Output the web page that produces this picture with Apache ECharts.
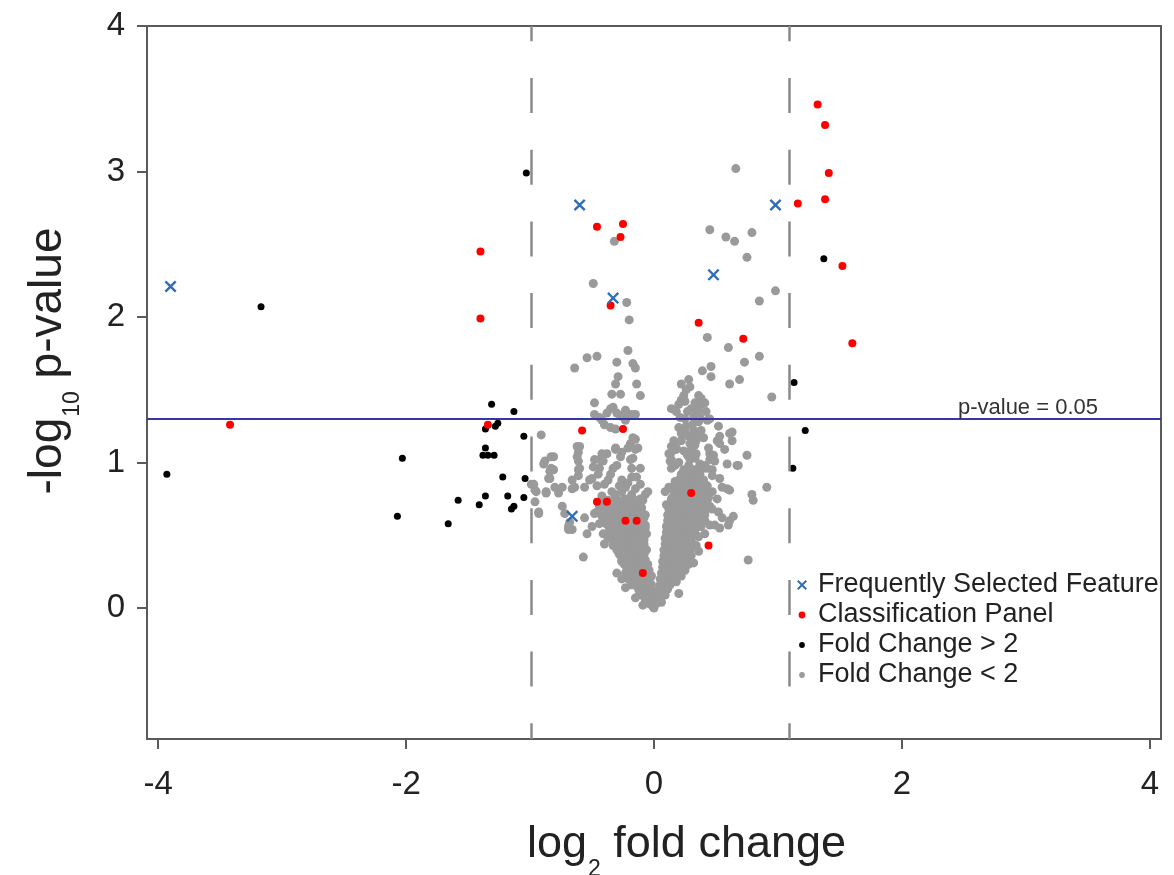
<!DOCTYPE html>
<html>
<head>
<meta charset="utf-8">
<script src="https://cdn.jsdelivr.net/npm/echarts@6/dist/echarts.min.js"></script>
<style>
html,body{margin:0;padding:0;background:#fff;}
#chart{width:1174px;height:875px;}
</style>
</head>
<body>
<div id="chart"></div>
<script>
// ---- data (log2 fold change, -log10 p-value) ----
const xTickValues = [-4, -2, 0, 2, 4];
const yTickValues = [0, 1, 2, 3, 4];
const pThreshold = 1.301;      // -log10(0.05)
const fcLeft = -0.99;
const fcRight = 1.09;

const bluePoints = [
  [-3.90,2.21],[-0.60,2.77],[-0.33,2.13],[0.48,2.29],[0.98,2.77],[-0.66,0.63]
];

const redPoints = [
  [-3.42,1.26],[-1.40,2.45],[-1.40,1.99],[-1.34,1.26],[-0.46,2.62],[-0.25,2.64],[-0.27,2.55],
  [-0.35,2.08],[0.36,1.96],[0.72,1.85],[-0.58,1.22],[-0.25,1.23],[0.30,0.79],[-0.46,0.73],
  [-0.38,0.73],[-0.23,0.60],[-0.14,0.60],[0.44,0.43],[-0.09,0.24],[1.16,2.78],[1.38,2.81],
  [1.41,2.99],[1.52,2.35],[1.60,1.82],[1.32,3.46],[1.38,3.32]
];

const blackPoints = [
  [-3.93,0.92],[-3.17,2.07],[-2.03,1.03],[-2.07,0.63],[-1.66,0.58],[-1.58,0.74],[-1.41,0.71],
  [-1.36,0.77],[-1.31,1.40],[-1.13,1.35],[-1.26,1.27],[-1.28,1.25],[-1.36,1.23],[-1.36,1.10],
  [-1.38,1.05],[-1.34,1.05],[-1.29,1.05],[-1.22,0.90],[-1.05,1.18],[-1.04,0.89],[-1.18,0.77],
  [-1.05,0.76],[-1.15,0.68],[-1.13,0.70],[-1.03,2.99],[1.13,1.55],[1.22,1.22],[1.12,0.96],
  [1.37,2.40]
];

const grayPoints = [
  // upper sparse
  [0.66,3.02],[0.45,2.60],[0.58,2.55],[0.65,2.52],[0.79,2.58],[0.75,2.41],[-0.32,2.52],[-0.49,2.23],
  [-0.22,2.10],[-0.20,1.98],[0.85,2.11],[0.98,2.18],[0.43,1.86],[0.60,1.79],[0.73,1.69],[0.85,1.73],
  [0.69,1.57],[0.61,1.54],[0.95,1.45],[0.46,1.66],[0.39,1.63],[0.46,1.59],[-0.64,1.65],[-0.54,1.72],
  [-0.46,1.73],[-0.30,1.69],[-0.21,1.77],[-0.17,1.68],[-0.15,1.65],[-0.29,1.59],[-0.31,1.54],
  [-0.14,1.54],[-0.34,1.47],[-0.27,1.47],[-0.11,1.46],[-0.48,1.41],[-0.33,1.38],[-0.23,1.36],
  // band around threshold
  [-0.35,1.37],[-0.30,1.34],[-0.23,1.33],[-0.15,1.33],[-0.48,1.33],[-0.42,1.29],[-0.40,1.26],
  [-0.35,1.24],[-0.31,1.23],[-0.23,1.29],[-0.17,1.17],[-0.15,1.16],[-0.91,1.19],[-0.62,1.11],
  [-0.61,1.07],[-0.31,1.10],[-0.26,1.07],[-0.42,1.06],[-0.21,1.10],[-0.13,1.10],[-0.81,1.04],
  [-0.44,1.31],[-0.38,1.34],[-0.27,1.32],[-0.18,1.33],
  [0.22,1.54],[0.28,1.57],[0.26,1.50],[0.29,1.52],[0.22,1.43],[0.25,1.42],[0.36,1.46],[0.38,1.44],
  [0.33,1.41],[0.38,1.40],[0.41,1.41],[0.30,1.37],[0.33,1.35],[0.36,1.36],[0.37,1.31],[0.32,1.31],
  [0.14,1.37],[0.18,1.35],[0.21,1.31],[0.25,1.30],[0.45,1.30],[0.43,1.29],[0.20,1.24],[0.22,1.20],
  [0.25,1.21],[0.32,1.22],[0.34,1.19],[0.30,1.17],[0.34,1.15],[0.52,1.25],[0.63,1.21],[0.53,1.18],
  [0.51,1.15],[0.57,1.09],[0.44,1.10],[0.45,1.06],[0.33,1.12],[0.16,1.13],[0.18,1.10],[0.14,1.07],
  [0.33,1.04],[0.75,1.05],
  [0.20,1.40],[0.24,1.46],[0.27,1.35],[0.31,1.26],[0.28,1.18],[0.24,1.08],[0.20,1.00],[0.27,1.05],
  [0.38,1.22],[0.40,1.17],[0.36,1.28],[0.42,1.35],
  // upper cloud
  [-0.88,1.01],[-0.83,0.96],[-0.61,1.01],[-0.60,0.96],[-0.61,0.91],[-0.48,1.02],[-0.41,1.01],
  [-0.33,0.96],[-0.19,1.02],[-0.18,0.96],[-0.11,0.96],[0.14,1.02],[0.14,0.96],[0.17,0.98],
  [0.33,1.03],[0.40,0.96],[0.47,0.95],[0.49,1.01],[0.67,0.98],[-0.99,0.85],[-0.96,0.81],
  [-0.85,0.89],[-0.84,0.94],[-0.87,0.80],[-0.77,0.79],[-0.74,0.83],[-0.66,0.82],[-0.66,0.88],
  [-0.56,0.83],[-0.50,0.89],[-0.40,0.85],[-0.37,0.88],[-0.26,0.88],[-0.23,0.83],[-0.21,0.86],
  [-0.18,0.90],[-0.11,0.85],
  [-0.45,0.92],[-0.35,0.92],[-0.30,0.98],[-0.28,0.84],[-0.14,0.90],[-0.46,0.84],[-0.34,0.80],[-0.44,0.96],
  // left side
  [-0.83,1.04],[-0.89,0.99],[-0.81,0.95],[-0.84,0.89],[-0.97,0.85],[-0.95,0.80],[-0.87,0.79],
  [-0.80,0.83],[-0.96,0.73],[-0.93,0.66],[-0.64,0.83],[-0.61,0.95],[-0.62,1.04],[-0.60,1.11],
  [-0.44,1.02],[-0.38,1.06],[-0.31,1.09],[-0.27,1.04],[-0.19,1.13],[-0.15,1.09],[-0.17,1.03],
  [-0.49,0.97],[-0.52,0.88],[-0.69,0.56],[-0.66,0.54],
  // left arm of the V
  [-0.31,0.78],[-0.26,0.80],[-0.23,0.75],[-0.18,0.78],[-0.15,0.82],[-0.11,0.75],[-0.07,0.78],
  [-0.05,0.80],[-0.42,0.77],[-0.38,0.71],[-0.31,0.71],[-0.29,0.66],[-0.48,0.65],[-0.42,0.63],
  [-0.38,0.59],[-0.34,0.57],[-0.23,0.69],[-0.18,0.66],[-0.10,0.69],[-0.07,0.64],[-0.13,0.59],
  [-0.07,0.57],[-0.56,0.62],[-0.50,0.56],[-0.54,0.51],[-0.69,0.54],[-0.68,0.59],[-0.74,0.70],
  [-0.72,0.65],[-0.93,0.65],[-0.57,0.35],[-0.41,0.51],[-0.37,0.48],[-0.33,0.43],[-0.40,0.44],
  [-0.29,0.53],[-0.23,0.50],[-0.18,0.48],[-0.26,0.44],[-0.13,0.50],[-0.09,0.47],[-0.11,0.42],
  [-0.29,0.39],[-0.23,0.36],[-0.18,0.34],[-0.26,0.32],[-0.21,0.28],[-0.15,0.30],[-0.30,0.24],
  [-0.26,0.20],[-0.21,0.20],[-0.15,0.18],[-0.11,0.25],[-0.07,0.20],[-0.10,0.36],[-0.09,0.32],
  [-0.13,0.14],[-0.09,0.09],[-0.05,0.04],[-0.01,0.01],[-0.02,0.09],[0.02,0.04],[-0.06,0.14],
  [-0.18,0.16],[-0.23,0.24],[-0.23,0.14],[-0.15,0.07],[-0.09,0.02],[0.00,0.00],
  [-0.44,0.70],[-0.40,0.70],[-0.36,0.70],[-0.32,0.70],[-0.28,0.70],[-0.24,0.70],[-0.20,0.70],
  [-0.16,0.70],[-0.12,0.70],[-0.40,0.62],[-0.36,0.62],[-0.32,0.62],[-0.27,0.62],[-0.22,0.62],
  [-0.17,0.62],[-0.12,0.62],[-0.08,0.62],[-0.36,0.55],[-0.31,0.55],[-0.26,0.55],[-0.21,0.55],
  [-0.16,0.55],[-0.11,0.55],[-0.07,0.55],[-0.33,0.47],[-0.28,0.47],[-0.23,0.47],[-0.18,0.47],
  [-0.13,0.47],[-0.08,0.47],[-0.30,0.40],[-0.25,0.40],[-0.20,0.40],[-0.15,0.40],[-0.10,0.40],
  [-0.06,0.40],[-0.26,0.33],[-0.21,0.33],[-0.16,0.33],[-0.11,0.33],[-0.07,0.33],[-0.22,0.26],
  [-0.17,0.26],[-0.12,0.26],[-0.08,0.26],[-0.04,0.26],[-0.17,0.19],[-0.12,0.19],[-0.08,0.19],
  [-0.04,0.19],[-0.12,0.12],[-0.08,0.12],[-0.04,0.12],[-0.01,0.12],[-0.07,0.06],[-0.03,0.06],
  [0.00,0.06],[0.03,0.06],
  [-0.42,0.74],[-0.37,0.74],[-0.33,0.74],[-0.29,0.74],[-0.25,0.74],[-0.21,0.74],[-0.17,0.74],
  [-0.13,0.74],[-0.09,0.74],[-0.46,0.66],[-0.42,0.66],[-0.38,0.66],[-0.34,0.66],[-0.30,0.66],
  [-0.25,0.66],[-0.20,0.66],[-0.15,0.66],[-0.10,0.66],[-0.44,0.58],[-0.39,0.58],[-0.34,0.58],
  [-0.29,0.58],[-0.24,0.58],[-0.19,0.58],[-0.14,0.58],[-0.09,0.58],[-0.35,0.51],[-0.30,0.51],
  [-0.25,0.51],[-0.20,0.51],[-0.15,0.51],[-0.10,0.51],[-0.06,0.51],[-0.31,0.44],[-0.27,0.44],
  [-0.22,0.44],[-0.17,0.44],[-0.12,0.44],[-0.08,0.44],[-0.28,0.37],[-0.23,0.37],[-0.18,0.37],
  [-0.13,0.37],[-0.08,0.37],[-0.24,0.30],[-0.19,0.30],[-0.14,0.30],[-0.09,0.30],[-0.05,0.30],
  [-0.20,0.22],[-0.15,0.22],[-0.10,0.22],[-0.06,0.22],[-0.02,0.22],[-0.15,0.16],[-0.10,0.16],
  [-0.06,0.16],[-0.02,0.16],[-0.10,0.09],[-0.06,0.09],[-0.03,0.09],[0.01,0.09],[-0.04,0.03],
  [-0.01,0.03],[0.02,0.03],
  // right arm of the V
  [0.03,0.09],[0.06,0.14],[0.09,0.18],[0.09,0.09],[0.06,0.04],[0.12,0.23],[0.14,0.27],[0.10,0.30],
  [0.16,0.34],[0.12,0.39],[0.17,0.41],[0.14,0.46],[0.18,0.49],[0.14,0.53],[0.17,0.57],[0.21,0.36],
  [0.24,0.32],[0.25,0.26],[0.22,0.22],[0.18,0.18],[0.22,0.48],[0.26,0.44],[0.29,0.40],[0.25,0.52],
  [0.22,0.59],[0.30,0.36],[0.32,0.31],[0.28,0.30],[0.12,0.62],[0.16,0.66],[0.10,0.71],[0.14,0.75],
  [0.09,0.80],[0.12,0.83],[0.17,0.87],[0.22,0.89],[0.20,0.82],[0.25,0.80],[0.25,0.93],[0.30,0.94],
  [0.28,0.98],[0.32,0.88],[0.36,0.85],[0.36,0.75],[0.41,0.73],[0.45,0.70],[0.47,0.80],[0.51,0.75],
  [0.22,0.69],[0.25,0.64],[0.30,0.62],[0.22,0.73],[0.28,0.71],[0.36,0.64],[0.41,0.60],[0.45,0.57],
  [0.38,0.56],[0.32,0.52],[0.36,0.49],[0.41,0.51],[0.30,0.47],[0.34,0.43],[0.36,0.39],[0.52,0.66],
  [0.55,0.62],[0.49,0.57],[0.53,0.55],[0.61,0.60],[0.64,0.63],[0.60,0.57],[0.59,0.82],[0.61,0.81],
  [0.79,0.78],[0.80,0.74],[0.91,0.83],[0.41,0.98],[0.47,0.91],[0.53,0.89],[0.55,0.83],[0.41,0.85],
  [0.43,0.80],[0.76,0.33],[0.20,0.10],
  [0.24,0.95],[0.29,0.95],[0.34,0.95],[0.20,0.88],[0.25,0.88],[0.30,0.88],[0.35,0.88],[0.40,0.88],
  [0.16,0.80],[0.21,0.80],[0.26,0.80],[0.31,0.80],[0.36,0.80],[0.41,0.80],[0.13,0.72],[0.18,0.72],
  [0.23,0.72],[0.28,0.72],[0.33,0.72],[0.38,0.72],[0.43,0.72],[0.11,0.64],[0.16,0.64],[0.21,0.64],
  [0.26,0.64],[0.31,0.64],[0.36,0.64],[0.41,0.64],[0.10,0.56],[0.15,0.56],[0.20,0.56],[0.25,0.56],
  [0.30,0.56],[0.35,0.56],[0.09,0.48],[0.14,0.48],[0.19,0.48],[0.24,0.48],[0.29,0.48],[0.08,0.40],
  [0.13,0.40],[0.18,0.40],[0.23,0.40],[0.27,0.40],[0.07,0.32],[0.12,0.32],[0.17,0.32],[0.22,0.32],
  [0.26,0.32],[0.06,0.24],[0.10,0.24],[0.15,0.24],[0.19,0.24],[0.05,0.16],[0.09,0.16],[0.13,0.16],
  [0.03,0.10],[0.07,0.10],
  [0.22,0.92],[0.27,0.92],[0.32,0.92],[0.37,0.92],[0.18,0.84],[0.23,0.84],[0.28,0.84],[0.33,0.84],
  [0.38,0.84],[0.43,0.84],[0.15,0.76],[0.19,0.76],[0.24,0.76],[0.29,0.76],[0.34,0.76],[0.39,0.76],
  [0.44,0.76],[0.12,0.68],[0.17,0.68],[0.22,0.68],[0.27,0.68],[0.32,0.68],[0.37,0.68],[0.42,0.68],
  [0.47,0.68],[0.11,0.60],[0.16,0.60],[0.21,0.60],[0.26,0.60],[0.31,0.60],[0.36,0.60],[0.40,0.60],
  [0.10,0.52],[0.14,0.52],[0.19,0.52],[0.24,0.52],[0.28,0.52],[0.33,0.52],[0.09,0.44],[0.13,0.44],
  [0.18,0.44],[0.22,0.44],[0.27,0.44],[0.31,0.44],[0.08,0.36],[0.12,0.36],[0.17,0.36],[0.21,0.36],
  [0.25,0.36],[0.07,0.28],[0.11,0.28],[0.15,0.28],[0.20,0.28],[0.23,0.28],[0.05,0.20],[0.09,0.20],
  [0.13,0.20],[0.17,0.20],[0.04,0.13],[0.08,0.13],[0.11,0.13],[0.02,0.05],[0.05,0.05],
  // right side
  [0.68,0.98],[0.61,1.20],[0.63,1.15],[0.53,1.13],[0.48,1.05],[0.45,1.02],[0.43,0.96],[0.37,0.99],
  [0.59,0.99],[0.16,1.15],[0.14,1.11],[0.12,1.06],[0.13,1.01],[0.18,1.09],[0.22,1.15],[0.25,1.20],
  [0.26,1.25],[0.29,1.13],[0.30,1.09],[0.34,1.06],[0.29,1.02],[0.32,0.95],[0.36,0.88]
];

const legendNames = ['Frequently Selected Feature', 'Classification Panel', 'Fold Change > 2', 'Fold Change < 2'];

const FONT = "'Liberation Sans', Arial, Helvetica, sans-serif";
const X_PATH = 'path://M0,1.4L1.4,0L5,3.6L8.6,0L10,1.4L6.4,5L10,8.6L8.6,10L5,6.4L1.4,10L0,8.6L3.6,5Z';
const DOT_BIG = 'path://M0,0M10,10M8.4,5A3.4,3.4,0,1,1,1.6,5A3.4,3.4,0,1,1,8.4,5Z';
const DOT_SMALL = 'path://M0,0M10,10M7.9,5A2.9,2.9,0,1,1,2.1,5A2.9,2.9,0,1,1,7.9,5Z';

const chart = echarts.init(document.getElementById('chart'), null, {renderer: 'canvas'});

const dashStyle = {color: '#8a8a8a', width: 2.5, type: [35, 36.7], dashOffset: 19.3};

chart.setOption({
  animation: false,
  backgroundColor: '#ffffff',
  textStyle: {fontFamily: FONT},
  grid: {left: 147, right: 13, top: 26, bottom: 136, show: true, borderColor: '#5a5a5a', borderWidth: 2, backgroundColor: 'transparent'},
  xAxis: {
    type: 'value', min: -4.09, max: 4.09,
    axisLine: {show: false, onZero: false},
    splitLine: {show: false},
    axisTick: {show: true, length: 10, customValues: xTickValues, lineStyle: {color: '#5a5a5a', width: 2}},
    axisLabel: {customValues: xTickValues, fontSize: 33, color: '#222', margin: 29, fontFamily: FONT}
  },
  yAxis: {
    type: 'value', min: -0.9, max: 4,
    axisLine: {show: false, onZero: false},
    splitLine: {show: false},
    axisTick: {show: true, length: 10, customValues: yTickValues, lineStyle: {color: '#5a5a5a', width: 2}},
    axisLabel: {customValues: yTickValues, fontSize: 33, color: '#222', margin: 22, fontFamily: FONT}
  },
  legend: {
    orient: 'vertical', left: 797, top: 570, padding: 0, itemGap: 0,
    itemWidth: 10, itemHeight: 10,
    textStyle: {fontSize: 27, lineHeight: 30, color: '#222', fontFamily: FONT, padding: [0, 0, 0, 6]},
    data: [
      {name: legendNames[0], icon: X_PATH},
      {name: legendNames[1], icon: DOT_BIG},
      {name: legendNames[2], icon: DOT_SMALL},
      {name: legendNames[3], icon: DOT_SMALL}
    ]
  },
  series: [
    {
      name: legendNames[3], type: 'scatter', data: grayPoints, symbol: 'circle', symbolSize: 9,
      itemStyle: {color: '#9a9a9a', opacity: 1}, z: 2, silent: true
    },
    {
      name: legendNames[2], type: 'scatter', data: blackPoints, symbol: 'circle', symbolSize: 7,
      itemStyle: {color: '#000000', opacity: 1}, z: 3, silent: true
    },
    {
      name: legendNames[1], type: 'scatter', data: redPoints, symbol: 'circle', symbolSize: 8,
      itemStyle: {color: '#ff0000', opacity: 1}, z: 4, silent: true
    },
    {
      name: legendNames[0], type: 'scatter', data: bluePoints, symbol: X_PATH, symbolSize: 12,
      itemStyle: {color: '#2f6db5', opacity: 1}, z: 5, silent: true,
      markLine: {
        silent: true, symbol: ['none', 'none'], animation: false,
        data: [
          {xAxis: fcLeft, lineStyle: dashStyle, label: {show: false}},
          {xAxis: fcRight, lineStyle: dashStyle, label: {show: false}},
          {
            yAxis: pThreshold,
            lineStyle: {color: '#3636a6', width: 2, type: 'solid'},
            label: {show: true, formatter: 'p-value = 0.05', position: 'insideEndTop', distance: [63, 0],
                    fontSize: 22, color: '#333', fontFamily: FONT}
          }
        ]
      }
    }
  ],
  graphic: [
    {
      type: 'text', x: 527, y: 822, silent: true,
      style: {
        text: '{a|log}{s|2}{a| fold change}', align: 'left', verticalAlign: 'top',
        rich: {
          a: {fontSize: 45, lineHeight: 44, verticalAlign: 'top', fill: '#222', fontFamily: FONT},
          s: {fontSize: 23, lineHeight: 22, verticalAlign: 'top', padding: [36, 0, 0, 1], fill: '#222', fontFamily: FONT}
        }
      }
    },
    {
      type: 'text', x: 25, y: 361, rotation: Math.PI / 2, silent: true,
      style: {
        text: '{a|-log}{s|10}{a| p-value}', align: 'center', verticalAlign: 'top',
        rich: {
          a: {fontSize: 46, lineHeight: 44, verticalAlign: 'top', fill: '#222', fontFamily: FONT},
          s: {fontSize: 23, lineHeight: 22, verticalAlign: 'top', padding: [36, 0, 0, 1], fill: '#222', fontFamily: FONT}
        }
      }
    }
  ]
});
</script>
</body>
</html>
